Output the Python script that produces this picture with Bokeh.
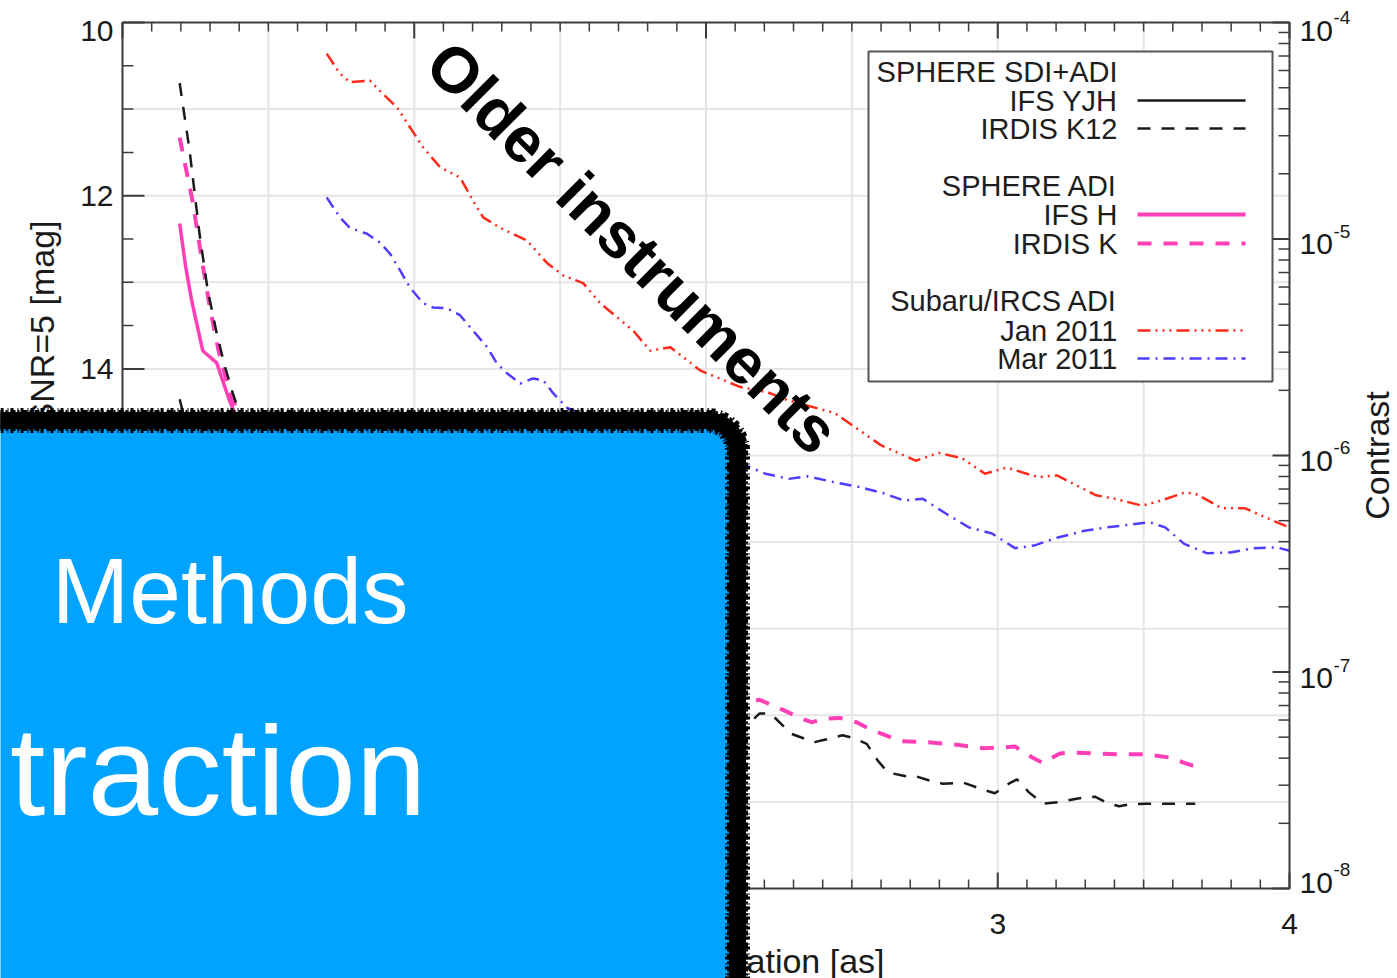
import numpy as np
from bokeh.plotting import figure
from bokeh.models import Range1d, BoxAnnotation, Label
from bokeh.core.properties import value
from bokeh.embed import file_html
from bokeh.resources import INLINE

# ---------------- data ----------------
# Subaru/IRCS ADI, Jan 2011 (red)
jan_sep = [0.70, 0.745, 0.779, 0.848, 0.882, 0.941, 1.030, 1.088, 1.157, 1.202, 1.236, 1.294,
           1.387, 1.456, 1.510, 1.579, 1.637, 1.751, 1.809, 1.878, 1.981, 2.118, 2.211, 2.279,
           2.441, 2.599, 2.719, 2.798, 2.877, 2.956, 3.031, 3.138, 3.203, 3.337, 3.402, 3.495,
           3.560, 3.639, 3.677, 3.769, 3.848, 3.955, 4.0]
jan_mag = [10.36, 10.59, 10.69, 10.67, 10.79, 10.98, 11.44, 11.67, 11.79, 12.06, 12.25, 12.37,
           12.52, 12.78, 12.92, 13.01, 13.24, 13.56, 13.79, 13.75, 14.02, 14.21, 14.27, 14.36,
           14.51, 14.88, 15.06, 14.97, 15.03, 15.21, 15.14, 15.25, 15.23, 15.46, 15.50, 15.58,
           15.52, 15.43, 15.44, 15.61, 15.61, 15.77, 15.83]
# Subaru/IRCS ADI, Mar 2011 (blue)
mar_sep = [0.70, 0.745, 0.779, 0.838, 0.882, 0.917, 0.951, 0.985, 1.030, 1.064, 1.112, 1.157,
           1.202, 1.250, 1.284, 1.318, 1.363, 1.407, 1.442, 1.476, 1.524, 1.64, 1.81, 1.98,
           2.139, 2.204, 2.283, 2.348, 2.441, 2.534, 2.612, 2.678, 2.743, 2.822, 2.901, 2.980,
           3.059, 3.124, 3.203, 3.296, 3.375, 3.453, 3.519, 3.574, 3.639, 3.718, 3.797, 3.876,
           3.955, 4.0]
mar_mag = [12.02, 12.25, 12.37, 12.44, 12.54, 12.67, 12.86, 13.06, 13.24, 13.29, 13.30, 13.38,
           13.56, 13.75, 13.94, 14.05, 14.17, 14.11, 14.13, 14.28, 14.45, 14.62, 14.82, 14.97,
           15.12, 15.21, 15.27, 15.24, 15.31, 15.37, 15.44, 15.52, 15.50, 15.67, 15.83, 15.90,
           16.07, 16.04, 15.95, 15.87, 15.83, 15.80, 15.77, 15.83, 16.02, 16.13, 16.12, 16.07,
           16.06, 16.10]
# SPHERE SDI+ADI, IRDIS K12 (black dashed)
k12_sep = [0.196, 0.230, 0.264, 0.292, 0.323, 0.350, 0.378, 0.45, 0.55, 0.70, 0.90, 1.10,
           1.40, 1.70, 2.00, 2.149, 2.183, 2.221, 2.255, 2.290, 2.338, 2.372, 2.410, 2.468,
           2.503, 2.551, 2.588, 2.623, 2.681, 2.715, 2.763, 2.812, 2.884, 2.942, 2.990, 3.038,
           3.066, 3.107, 3.155, 3.213, 3.275, 3.333, 3.381, 3.416, 3.450, 3.508, 3.594, 3.677]
k12_mag = [10.70, 11.48, 12.44, 13.09, 13.59, 13.96, 14.28, 15.0, 15.7, 16.4, 16.9, 17.3,
           17.6, 17.8, 17.95, 18.09, 17.98, 17.98, 18.09, 18.21, 18.27, 18.31, 18.28, 18.23,
           18.26, 18.33, 18.52, 18.66, 18.70, 18.70, 18.75, 18.79, 18.78, 18.85, 18.90, 18.79,
           18.74, 18.89, 19.02, 19.00, 18.96, 18.94, 19.02, 19.05, 19.03, 19.02, 19.02, 19.02]
# SPHERE ADI, IRDIS K (pink dashed)
irk_sep = [0.196, 0.240, 0.270, 0.300, 0.330, 0.370, 0.45, 0.55, 0.70, 0.90, 1.10, 1.40,
           1.70, 2.00, 2.142, 2.183, 2.231, 2.266, 2.328, 2.362, 2.410, 2.458, 2.516, 2.551,
           2.599, 2.671, 2.763, 2.860, 2.952, 3.024, 3.059, 3.120, 3.155, 3.213, 3.261, 3.333,
           3.416, 3.508, 3.594, 3.639, 3.677]
irk_mag = [11.33, 12.06, 12.70, 13.30, 13.80, 14.30, 14.90, 15.50, 16.10, 16.60, 17.00, 17.35,
           17.60, 17.80, 17.86, 17.82, 17.89, 17.94, 18.04, 18.08, 18.04, 18.03, 18.08, 18.14,
           18.21, 18.30, 18.31, 18.34, 18.38, 18.37, 18.36, 18.49, 18.55, 18.44, 18.43, 18.44,
           18.45, 18.45, 18.49, 18.55, 18.59]
# SPHERE ADI, IFS H (pink solid)
ifsh_sep = [0.196, 0.216, 0.237, 0.275, 0.323, 0.367, 0.388, 0.45, 0.60, 0.80, 1.00, 1.20]
ifsh_mag = [12.32, 12.81, 13.21, 13.79, 13.93, 14.37, 14.54, 15.1, 15.9, 16.6, 17.0, 17.3]
# SPHERE SDI+ADI, IFS YJH (black solid)
yjh_sep = [0.196, 0.210, 0.30, 0.45, 0.60, 0.80, 1.00, 1.20]
yjh_mag = [14.35, 14.54, 15.3, 16.2, 16.9, 17.5, 17.9, 18.2]

mag_ticks = [10, 12, 14, 16, 18, 20]
mag_labels = ["10", "12", "14", "16", "18", "20"]
sep_ticks = [0, 1, 2, 3, 4]
sep_labels = ["0", "1", "2", "3", "4"]
contrast_exp = [-4, -5, -6, -7, -8]
contrast_base = ["10", "10", "10", "10", "10"]
contrast_sup = ["-4", "-5", "-6", "-7", "-8"]

# ---------------- layout helpers (pixel -> data) ----------------
W, H = 1397, 978
FL, FRX, FT, FBY = 122, 1289, 22, 888      # plot frame edges in pixels
pxu = (FRX - FL) / 4.0
pmu = (FBY - FT) / 10.0
def sx(px):
    return (px - FL) / pxu
def sy(py):
    return 10 + (py - FT) / pmu
def dx(n):
    return n / pxu
def dy(n):
    return n / pmu

FONT = "Liberation Sans"
RED, BLUE, PINK, BLK = "#ff2a1a", "#4f3cff", "#ff3fb8", "#1a1a1a"
AX = "#3c3c3c"

p = figure(width=W, height=H, x_range=Range1d(sx(0), sx(W)), y_range=Range1d(sy(H), sy(0)),
           min_border=0, output_backend="svg", toolbar_location=None,
           x_axis_location=None, y_axis_location=None)
p.grid.visible = False
p.outline_line_color = None
p.background_fill_color = "white"
p.border_fill_color = "white"

# ---------------- grid ----------------
gx = [0.5, 1.0, 1.5, 2.0, 2.5, 3.0, 3.5]
gy = [11, 12, 13, 14, 15, 16, 17, 18, 19]
p.segment(x0=gx, x1=gx, y0=[10] * len(gx), y1=[20] * len(gx), line_color="#e6e6e6", line_width=2)
p.segment(x0=[0] * len(gy), x1=[4] * len(gy), y0=gy, y1=gy, line_color="#e6e6e6", line_width=2)

# ---------------- legend box background ----------------
p.quad(left=[sx(868)], right=[sx(1272)], top=[sy(51)], bottom=[sy(381)],
       fill_color="white", line_color="#555555", line_width=2)

# ---------------- curves ----------------
p.line(jan_sep, jan_mag, line_color=RED, line_width=2.5, line_dash="13 5 2 5 2 5 2 5")
p.line(mar_sep, mar_mag, line_color=BLUE, line_width=2.5, line_dash="12 6 2 6")
p.line(yjh_sep, yjh_mag, line_color=BLK, line_width=2.5)
p.line(ifsh_sep, ifsh_mag, line_color=PINK, line_width=3.5)
p.line(irk_sep, irk_mag, line_color=PINK, line_width=4, line_dash="14 12")
p.line(k12_sep, k12_mag, line_color=BLK, line_width=2.5, line_dash="13 11")

# ---------------- axes (drawn by hand, frame spans the whole canvas) ----------------
p.quad(left=[0], right=[4], top=[10], bottom=[20], fill_color=None, line_color=AX, line_width=2)
sep_minor = [round(v, 2) for v in np.arange(0.1, 4.0, 0.1) if abs(v - round(v)) > 1e-6]
mag_minor = [v for v in np.arange(10.5, 20, 0.5) if v not in mag_ticks]
c_major = [10 - 2.5 * (e + 4) for e in contrast_exp]
c_minor = [10 - 2.5 * (np.log10(k) + e + 4) for e in range(-8, -4) for k in range(2, 10)]
n = len(sep_ticks); m = len(sep_minor)
p.segment(x0=sep_ticks, x1=sep_ticks, y0=[20] * n, y1=[20 - dy(16)] * n, line_color=AX, line_width=2)
p.segment(x0=sep_minor, x1=sep_minor, y0=[20] * m, y1=[20 - dy(9)] * m, line_color=AX, line_width=1.5)
p.segment(x0=sep_ticks, x1=sep_ticks, y0=[10] * n, y1=[10 + dy(16)] * n, line_color=AX, line_width=2)
p.segment(x0=sep_minor, x1=sep_minor, y0=[10] * m, y1=[10 + dy(9)] * m, line_color=AX, line_width=1.5)
n = len(mag_ticks); m = len(mag_minor)
p.segment(x0=[0] * n, x1=[dx(22)] * n, y0=mag_ticks, y1=mag_ticks, line_color=AX, line_width=2)
p.segment(x0=[0] * m, x1=[dx(11)] * m, y0=mag_minor, y1=mag_minor, line_color=AX, line_width=1.5)
n = len(c_major); m = len(c_minor)
p.segment(x0=[4] * n, x1=[4 - dx(17)] * n, y0=c_major, y1=c_major, line_color=AX, line_width=2)
p.segment(x0=[4] * m, x1=[4 - dx(11)] * m, y0=c_minor, y1=c_minor, line_color=AX, line_width=1.5)

TL = dict(text_font=value(FONT), text_font_size=value("30px"), text_color="#1a1a1a")
p.text(x=sep_ticks, y=[sy(923)] * len(sep_ticks), text=sep_labels, text_align="center",
       text_baseline="middle", **TL)
left_shift = [8, 0, 0, 0, 0, -8]
p.text(x=[sx(113)] * len(mag_ticks), y=[t + dy(s) for t, s in zip(mag_ticks, left_shift)],
       text=mag_labels, text_align="right", text_baseline="middle", **TL)
right_shift = [8, 5, 5, 6, -6]
ry = [c + dy(s) for c, s in zip(c_major, right_shift)]
p.text(x=[sx(1299)] * len(c_major), y=ry, text=contrast_base,
       text_align="left", text_baseline="middle", **TL)
p.text(x=[sx(1333)] * len(c_major), y=[v - dy(13) for v in ry], text=contrast_sup,
       text_align="left", text_baseline="middle", text_font=value(FONT),
       text_font_size=value("19px"), text_color="#1a1a1a")

# ---------------- legend ----------------
leg_rows = [("SPHERE SDI+ADI", 71, None), ("IFS YJH", 100, (BLK, 2.5, "solid")),
            ("IRDIS K12", 128, (BLK, 2.5, "13 11")),
            ("SPHERE ADI", 185, None), ("IFS H", 214, (PINK, 4, "solid")),
            ("IRDIS K", 243, (PINK, 4, "14 12")),
            ("Subaru/IRCS ADI", 300, None), ("Jan 2011", 330, (RED, 2.5, "13 5 2 5 2 5 2 5")),
            ("Mar 2011", 358, (BLUE, 2.5, "12 6 2 6"))]
for txt, yy, sty in leg_rows:
    if sty is not None:
        col, lw, dash = sty
        p.line([sx(1137), sx(1245)], [sy(yy), sy(yy)], line_color=col, line_width=lw, line_dash=dash)
for txt, yy, sty in leg_rows:
    p.add_layout(Label(x=sx(1117), y=sy(yy), text=txt, text_align="right", text_baseline="middle",
                       text_font=FONT, text_font_size="29px", text_color="#1e1e1e"))

# ---------------- axis titles ----------------
p.add_layout(Label(x=sx(41), y=sy(220), text="Contrast at SNR=5 [mag]", angle=np.pi / 2,
                   text_align="right", text_baseline="middle", text_font=FONT,
                   text_font_size="34px", text_color="#1a1a1a"))
p.add_layout(Label(x=sx(884), y=sy(960), text="Angular separation [as]",
                   text_align="right", text_baseline="middle", text_font=FONT,
                   text_font_size="34px", text_color="#1a1a1a"))
p.add_layout(Label(x=sx(1376), y=sy(455), text="Contrast", angle=np.pi / 2,
                   text_align="center", text_baseline="middle", text_font=FONT,
                   text_font_size="34px", text_color="#1a1a1a"))

# ---------------- slide overlay ----------------
p.add_layout(Label(x=sx(632), y=sy(247), text="Older instruments", angle=-np.pi / 4,
                   text_align="center", text_baseline="middle", text_font=FONT,
                   text_font_style="bold", text_font_size="64px", text_color="black"))
p.add_layout(BoxAnnotation(left=sx(-200), right=sx(737), top=sy(420), bottom=sy(1150),
                           fill_color="#00a3ff", fill_alpha=1.0, line_color="black",
                           line_alpha=1.0, line_width=17, border_radius=30, level="overlay"))
p.add_layout(BoxAnnotation(left=sx(-200), right=sx(737), top=sy(420), bottom=sy(1150),
                           fill_color=None, fill_alpha=0, line_color="black",
                           line_alpha=1.0, line_width=25, line_dash="3 4 1 2", border_radius=30,
                           level="overlay"))
p.add_layout(BoxAnnotation(left=sx(-200), right=sx(737), top=sy(420), bottom=sy(1150),
                           fill_color=None, fill_alpha=0, line_color="black",
                           line_alpha=1.0, line_width=21, line_dash="5 2 2 3", border_radius=30,
                           level="overlay"))
p.add_layout(Label(x=sx(408), y=sy(590), text="Methods", text_align="right",
                   text_baseline="alphabetic", text_font=FONT, text_font_size="93px",
                   text_color="white", level="overlay"))
p.add_layout(Label(x=sx(426), y=sy(770), text="traction", text_align="right",
                   text_baseline="alphabetic", text_font=FONT, text_font_size="127px",
                   text_color="white", level="overlay"))

open("out.html", "w").write(file_html(p, INLINE))
